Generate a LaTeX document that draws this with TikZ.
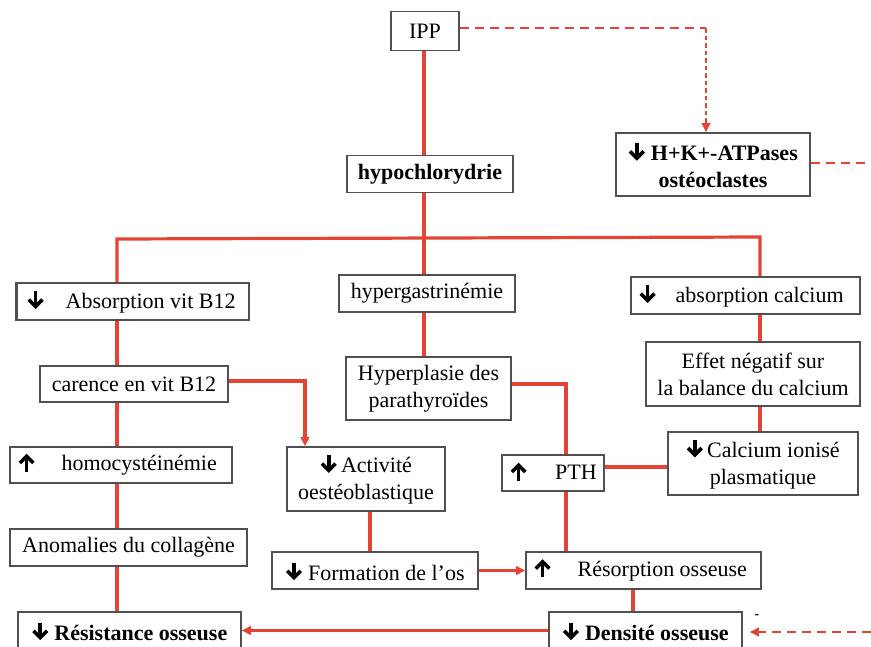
\documentclass[tikz,border=0pt]{standalone}
\usepackage{fontspec}
\setmainfont{Liberation Serif}
\usetikzlibrary{arrows.meta}
\definecolor{rl}{RGB}{228,68,52}
\definecolor{bx}{RGB}{80,80,80}
\newsavebox\dnbox
\newsavebox\upbox
\sbox\dnbox{\tikz[baseline=0pt,x=1pt,y=1pt]{\draw[line width=3.6pt] (0,17.5) -- (0,3.5); \draw[line width=3.6pt,line join=miter,miter limit=10] (-6.8,9.2) -- (0,2.4) -- (6.8,9.2);}}
\sbox\upbox{\tikz[baseline=0pt,x=1pt,y=1pt]{\draw[line width=3.6pt] (0,-1) -- (0,13.5); \draw[line width=3.6pt,line join=miter,miter limit=10] (-6.8,7.8) -- (0,14.6) -- (6.8,7.8);}}
\newcommand\dn{\usebox\dnbox}
\newcommand\upa{\usebox\upbox}
\begin{document}
\begin{tikzpicture}[x=1pt,y=-1pt, font=\fontsize{22}{27}\selectfont,
 box/.style={draw=bx, line width=1.6pt, inner sep=0pt, minimum height=37pt, align=center, fill=white},
 bbox/.style={box, font=\fontsize{22}{27}\selectfont\bfseries},
 ln/.style={draw=rl, line width=3.2pt},
 tip/.style={-{Triangle[length=9pt,width=8.5pt]}},
 dsh/.style={draw=rl, line width=2.6pt, dash pattern=on 9pt off 6pt},
 fdsh/.style={draw=rl, line width=2pt, dash pattern=on 4.5pt off 3pt}]
\useasboundingbox (0,0) rectangle (871,646);
\clip (0,0) rectangle (871,646);
\fill[white] (0,0) rectangle (871,646);

% coordinates for connector routes
\coordinate (cx) at (424,0);
\coordinate (bl) at (117,239);
\coordinate (br) at (760,237);
\coordinate (ca) at (305,381);
\coordinate (hp) at (566,384);
\coordinate (cp) at (0,467);
\coordinate (af) at (370,0);
\coordinate (rd) at (633,0);
\coordinate (hx) at (706,28);
\coordinate (re) at (871,163);
\coordinate (re2) at (871,632);

% trunk and bus (boxes cover the ends)
\draw[ln] (cx |- 0,50) -- (cx |- 0,155);
\draw[ln] (cx |- 0,192) -- (cx |- 0,275);
\draw[ln] (117,283) -- (bl) -- (br) -- (760,277);

% boxes
\node[box,minimum width=68pt,minimum height=39pt] (ipp) at (425,31) {IPP};
\node[bbox,minimum width=166pt] (hypo) at (430,174) {hypochlorydrie};
\node[bbox,minimum width=194pt,minimum height=63pt] (hk) at (713,164.5) {\dn\ H+K+-ATPases\\ostéoclastes};
\node[box,minimum width=232pt] (absb12) at (133,301.5) {\makebox[212pt][l]{\dn\hspace{21.5pt}Absorption vit B12}};
\draw[bx,line width=3pt] (absb12.north west) -- (absb12.south west);
\node[box,minimum width=176pt] (hypg) at (427,293.5) {hypergastrinémie};
\node[box,minimum width=229pt] (abscal) at (745.5,295.5) {\makebox[213pt][l]{\dn\hspace{19.5pt}absorption calcium}};
\node[box,minimum width=188pt,minimum height=36pt] (carence) at (134,384) {carence en vit B12};
\node[box,minimum width=165pt,minimum height=63pt] (hyper) at (428.5,388.5) {Hyperplasie des\\parathyroïdes};
\node[box,minimum width=214pt,minimum height=64pt] (effet) at (753,374) {Effet négatif sur\\la balance du calcium};
\node[box,minimum width=222pt,minimum height=36pt] (homo) at (121,465) {\makebox[206pt][l]{\upa\hspace{26.4pt}homocystéinémie}};
\node[box,minimum width=158pt,minimum height=64pt] (activ) at (366,479) {\dn\,Activité\\oestéoblastique};
\node[box,minimum width=102pt,minimum height=36pt] (pth) at (553,473) {\makebox[86pt][l]{\upa\hspace{28pt}PTH}};
\node[box,minimum width=190pt,minimum height=63pt] (calc) at (763,463.5) {\dn\,Calcium ionisé\\plasmatique};
\node[box,minimum width=237pt] (anom) at (128.5,547.5) {Anomalies du collagène};
\node[box,minimum width=206pt] (form) at (375,570.5) {\dn\ Formation de l’os};
\node[box,minimum width=235pt] (resorp) at (643.5,570.5) {\makebox[219pt][l]{\upa\hspace{26.5pt}Résorption osseuse}};
\node[bbox,minimum width=223pt] (resist) at (129.5,630.5) {\dn\ Résistance osseuse};
\node[bbox,minimum width=193pt] (dens) at (645.5,630.5) {\dn\ Densité osseuse};
\node[font=\fontsize{14}{14}\selectfont\bfseries] (minus) at (757,617) {-};

% connectors between boxes
\draw[ln] (absb12.south -| bl) -- (carence.north -| bl);
\draw[ln] (carence.south -| bl) -- (homo.north -| bl);
\draw[ln] (homo.south -| bl) -- (anom.north -| bl);
\draw[ln] (anom.south -| bl) -- (resist.north -| bl);
\draw[ln] (hypg.south -| cx) -- (hyper.north -| cx);
\draw[ln] (abscal.south -| br) -- (effet.north -| br);
\draw[ln] (effet.south -| br) -- (calc.north -| br);
\draw[ln,tip] (carence.east |- ca) -- (ca) -- (ca |- activ.north);
\draw[ln] (hyper.east |- hp) -- (hp) -- (hp |- pth.north);
\draw[ln] (pth.south -| hp) -- (resorp.north -| hp);
\draw[ln] (calc.west |- cp) -- (pth.east |- cp);
\draw[ln] (activ.south -| af) -- (form.north -| af);
\draw[ln,line width=3.8pt,tip] (form.east) -- (resorp.west);
\draw[ln] (resorp.south -| rd) -- (dens.north -| rd);
\draw[ln,tip] (dens.west) -- (resist.east);
\draw[dsh] (ipp.east |- hx) -- (hx);
\draw[fdsh,tip] (hx) -- (hx |- hk.north);
\draw[dsh] (hk.east |- re) -- (re);
\draw[dsh,tip,shorten >=7pt] (re2) -- (dens.east |- re2);
\end{tikzpicture}
\end{document}
